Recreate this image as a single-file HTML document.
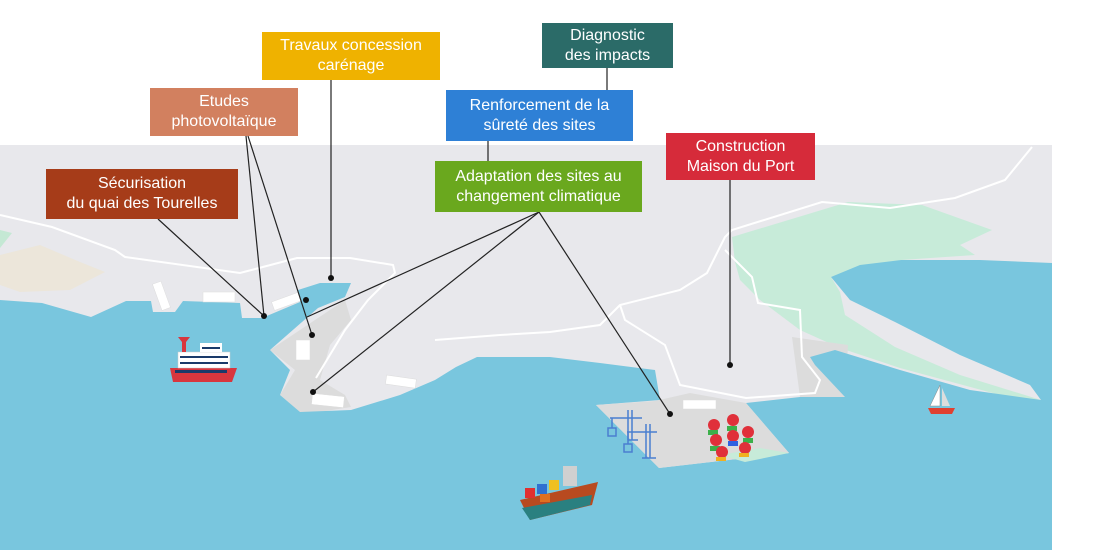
<!DOCTYPE html>
<html><head><meta charset="utf-8"><style>
body{margin:0;width:1100px;height:550px;overflow:hidden;background:#fff;font-family:"Liberation Sans",sans-serif}
svg{position:absolute;left:0;top:0}
.b{position:absolute;color:#fff;font-size:16px;line-height:20px;text-align:center;display:flex;align-items:center;justify-content:center}
</style></head><body>
<svg width="1100" height="550" viewBox="0 0 1100 550">
<rect x="0" y="145" width="1052" height="405" fill="#e8e8ec"/>
<!-- tan/green patches -->
<path d="M0,255 L40,245 L80,262 L105,272 L70,290 L20,292 L0,285Z" fill="#ece6da"/>
<path d="M0,230 L12,233 L0,248Z" fill="#c4e8d4"/>
<path d="M732,237 L848,202 L922,205 L992,230 L960,245 L975,255 L901,260 L831,277 L840,292 L845,315 L895,347 L960,375 L1041,400 L1045,405 L1000,395 L900,368 L840,348 L800,330 L760,300 L740,280 L735,262Z" fill="#c7ebd9"/>
<!-- darker gray lands -->
<path d="M91,317 L151,318 L145,340 L125,360 L100,360 L90,340Z" fill="#dcdcdc"/>
<path d="M270,350 L330,310 L345,300 L351,320 L330,345 L320,380 L345,395 L351,407 L300,415 L280,395 L295,370Z" fill="#dcdcdc"/>
<path d="M792,337 L848,345 L845,397 L800,397Z" fill="#dcdcdc"/>
<!-- sea -->
<path d="M0,300 L42,303 L91,317 L126,301 L151,301 L153,312 L175,312 L183,301 L240,303 L242,318 L262,318 L300,302 L298,290 L320,283 L351,283 L345,297 L318,308 L270,350 L290,370 L280,395 L300,412 L351,410 L400,395 L435,380 L456,367 L477,357 L550,357 L600,363 L655,370 L660,400 L596,405 L659,468 L789,453 L746,403 L800,397 L845,397 L815,365 L810,357 L835,350 L900,370 L970,390 L1041,400 L1030,385 L960,355 L895,322 L850,300 L831,277 L860,265 L901,260 L980,260 L1052,263 L1052,550 L0,550Z" fill="#79c6de"/>
<!-- terminal -->
<path d="M596,405 L655,401 L690,393 L746,403 L789,453 L659,468Z" fill="#dcdcdc"/>
<path d="M720,455 L760,448 L789,453 L745,462Z" fill="#c7ebd9"/>
<!-- roads -->
<g fill="none" stroke="#fff" stroke-width="2">
<path d="M0,215 L52,227 L115,250 L125,257 L240,273 L297,258 L350,258 L393,265 L395,273 L368,300 L345,330 L316,378"/>
<path d="M435,340 L500,335 L550,332 L600,325 L620,305 L680,290 L707,273 L725,237 L732,230 L822,202 L890,208 L955,198 L1005,180 L1032,147"/>
<path d="M620,305 L625,320 L665,345 L680,385 L746,398 L815,393 L820,380 L802,357 L800,310 L758,303 L752,277 L725,250"/>
</g>
<!-- buildings -->
<g fill="#fff" stroke="#ddd" stroke-width="0.5">
<rect x="157" y="282" width="9" height="28" transform="rotate(-20 161 296)"/>
<rect x="203" y="292" width="32" height="10"/>
<rect x="272" y="297" width="28" height="9" transform="rotate(-20 286 301)"/>
<rect x="296" y="340" width="14" height="20"/>
<rect x="386" y="377" width="30" height="9" transform="rotate(8 400 381)"/>
<rect x="312" y="395" width="32" height="11" transform="rotate(6 328 400)"/>
<rect x="683" y="400" width="33" height="9"/>
</g>
<!-- cranes -->
<g stroke="#4a7fd0" stroke-width="1.5" fill="none">
<path d="M628,410 L628,440 M632,410 L632,440 M610,418 L642,418 M612,418 L612,428 M608,428 h8 v8 h-8z M628,440 h10"/>
<path d="M646,424 L646,458 M650,424 L650,458 M627,432 L657,432 M628,432 L628,444 M624,444 h8 v8 h-8z M642,458 h14"/>
</g>
<!-- colorful items -->
<g>
<circle cx="714" cy="425" r="6" fill="#e0303a"/><rect x="708" y="430" width="10" height="5" fill="#3cb04a"/>
<circle cx="733" cy="420" r="6" fill="#e0303a"/><rect x="727" y="426" width="10" height="5" fill="#3cb04a"/>
<circle cx="716" cy="440" r="6" fill="#e0303a"/><rect x="710" y="446" width="10" height="5" fill="#3cb04a"/>
<circle cx="733" cy="436" r="6" fill="#e0303a"/><rect x="728" y="441" width="10" height="5" fill="#3060e0"/>
<circle cx="748" cy="432" r="6" fill="#e0303a"/><rect x="743" y="438" width="10" height="5" fill="#3cb04a"/>
<circle cx="722" cy="452" r="6" fill="#e0303a"/><rect x="716" y="457" width="10" height="4" fill="#f0b020"/>
<circle cx="745" cy="448" r="6" fill="#e0303a"/><rect x="739" y="453" width="10" height="4" fill="#f0b020"/>
</g>
<!-- cruise ship -->
<g>
<path d="M170,368 L237,368 L232,382 L173,382Z" fill="#d8363e"/>
<rect x="175" y="370" width="52" height="3" fill="#1a3a6a"/>
<rect x="178" y="352" width="52" height="16" fill="#fff" stroke="#ccc" stroke-width="0.5"/>
<rect x="180" y="356" width="48" height="2" fill="#1a3a6a"/><rect x="180" y="362" width="48" height="2" fill="#1a3a6a"/>
<rect x="200" y="343" width="22" height="9" fill="#fff"/><rect x="202" y="347" width="18" height="2" fill="#1a3a6a"/>
<path d="M178,337 L190,337 L186,342 L186,352 L182,352 L182,342Z" fill="#d8363e"/>
</g>
<!-- container ship -->
<g>
<path d="M520,500 L598,482 L592,505 L530,520Z" fill="#b84a20"/>
<path d="M522,508 L592,495 L590,505 L530,520Z" fill="#2a8080"/>
<rect x="525" y="488" width="10" height="10" fill="#e03030"/><rect x="537" y="484" width="10" height="10" fill="#3070d0"/><rect x="549" y="480" width="10" height="10" fill="#f0c020"/><rect x="540" y="494" width="10" height="8" fill="#e07020"/>
<rect x="563" y="466" width="14" height="20" fill="#d0d0d0"/>
</g>
<!-- sailboat -->
<g><path d="M928,408 L955,408 L952,414 L931,414Z" fill="#e04030"/><path d="M940,385 L940,406 L930,406Z" fill="#fff" stroke="#888" stroke-width="0.5"/><path d="M942,388 L950,406 L942,406Z" fill="#ddd"/></g>
<!-- connectors -->
<g stroke="#222" stroke-width="1.2" fill="none">
<line x1="331" y1="80" x2="331" y2="278"/>
<line x1="607" y1="68" x2="607" y2="90"/>
<line x1="488" y1="141" x2="488" y2="161"/>
<line x1="158" y1="219" x2="264" y2="316"/>
<line x1="246" y1="136" x2="264" y2="316"/>
<line x1="248" y1="136" x2="312" y2="335"/>
<line x1="539" y1="212" x2="307" y2="317"/>
<line x1="539" y1="212" x2="313" y2="392"/>
<line x1="539" y1="212" x2="670" y2="414"/>
<line x1="730" y1="180" x2="730" y2="365"/>
</g>
<g fill="#111">
<circle cx="331" cy="278" r="3"/><circle cx="306" cy="300" r="3"/><circle cx="264" cy="316" r="3"/><circle cx="312" cy="335" r="3"/><circle cx="313" cy="392" r="3"/><circle cx="670" cy="414" r="3"/><circle cx="730" cy="365" r="3"/>
</g>
</svg>
<div class="b" style="left:262px;top:32px;width:178px;height:48px;background:#efb200">Travaux concession<br>carénage</div>
<div class="b" style="left:542px;top:23px;width:131px;height:45px;background:#2b6b68">Diagnostic<br>des impacts</div>
<div class="b" style="left:150px;top:88px;width:148px;height:48px;background:#d2805f">Etudes<br>photovoltaïque</div>
<div class="b" style="left:446px;top:90px;width:187px;height:51px;background:#2e80d6">Renforcement de la<br>sûreté des sites</div>
<div class="b" style="left:46px;top:169px;width:192px;height:50px;background:#a63c19">Sécurisation<br>du quai des Tourelles</div>
<div class="b" style="left:435px;top:161px;width:207px;height:51px;background:#6aa81e">Adaptation des sites au<br>changement climatique</div>
<div class="b" style="left:666px;top:133px;width:149px;height:47px;background:#d62b3a">Construction<br>Maison du Port</div>
</body></html>
